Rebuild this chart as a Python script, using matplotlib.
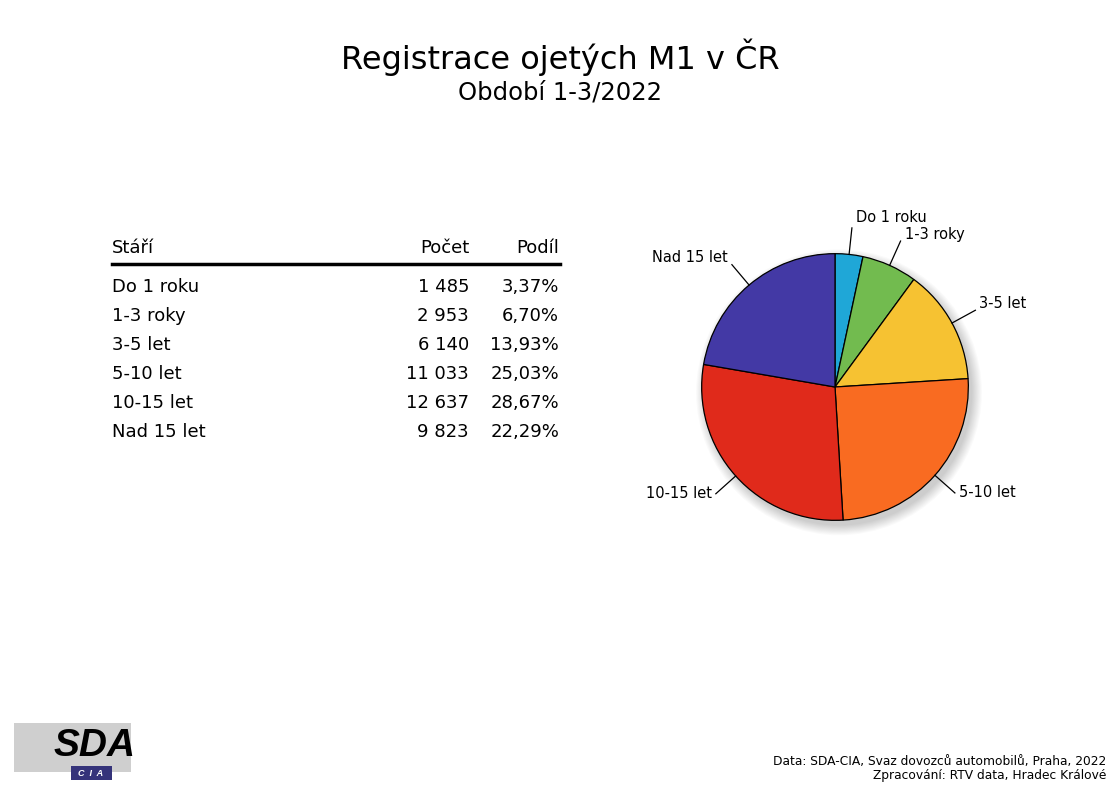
import numpy as np
import matplotlib
matplotlib.use("Agg")
import matplotlib.pyplot as plt
from matplotlib.patches import Rectangle, Circle

plt.rcParams['font.family'] = ['DejaVu Sans']

categories = ["Do 1 roku", "1-3 roky", "3-5 let", "5-10 let", "10-15 let", "Nad 15 let"]
counts = [1485, 2953, 6140, 11033, 12637, 9823]
shares = [3.37, 6.70, 13.93, 25.03, 28.67, 22.29]
colors = ["#1fa7d7", "#72bb4f", "#f6c232", "#f96b21", "#e02a1b", "#4339a5"]

W, H = 1120, 790
fig = plt.figure(figsize=(W / 100, H / 100), dpi=100)


def fx(px):
    return px / W


def fy(py):
    return 1 - py / H


# titles
fig.text(fx(560), fy(57), "Registrace ojetých M1 v ČR", ha="center", va="center", fontsize=23)
fig.text(fx(560), fy(93), "Období 1-3/2022", ha="center", va="center", fontsize=17.5)

# table
tsize = 13
fig.text(fx(112), fy(248), "Stáří", ha="left", va="center", fontsize=tsize)
fig.text(fx(469), fy(248), "Počet", ha="right", va="center", fontsize=tsize)
fig.text(fx(559), fy(248), "Podíl", ha="right", va="center", fontsize=tsize)
fig.add_artist(plt.Line2D([fx(112), fx(560)], [fy(264), fy(264)], color="black", lw=2.5))
for i, (cat, n, s) in enumerate(zip(categories, counts, shares)):
    y = fy(287 + i * 29)
    fig.text(fx(112), y, cat, ha="left", va="center", fontsize=tsize)
    fig.text(fx(469), y, f"{n:,}".replace(",", " "), ha="right", va="center", fontsize=tsize)
    fig.text(fx(559), y, f"{s:.2f}%".replace(".", ","), ha="right", va="center", fontsize=tsize)

# pie
ax = fig.add_axes([fx(635), fy(587), 400 / W, 400 / H])

# soft shadow
for k in range(10):
    ax.add_patch(Circle((0.03, -0.04), 1.0 + k * 0.008, color="black",
                        alpha=0.018, lw=0, zorder=0))

wedges, _ = ax.pie(counts, colors=colors, startangle=90, counterclock=False,
                   radius=1.0, wedgeprops=dict(edgecolor="black", linewidth=0.9))
for w in wedges:
    w.set_zorder(2)
ax.set_xlim(-1.5, 1.5)
ax.set_ylim(-1.5, 1.5)
ax.set_aspect("equal")
ax.axis("off")

total = sum(counts)
cum = np.cumsum([0] + counts[:-1])
for cat, c0, n in zip(categories, cum, counts):
    ang = np.deg2rad(90 - 360 * (c0 + n / 2) / total)
    x0, y0 = np.cos(ang), np.sin(ang)
    ax.plot([x0, 1.2 * x0], [y0, 1.2 * y0], color="black", lw=0.9, zorder=3)
    ha = "left" if x0 > 0 else "right"
    tx = 1.2 * x0 + (0.03 if x0 > 0 else -0.03)
    ty = 1.2 * y0
    if y0 > 0.95:
        va, ty = "bottom", ty + 0.02
    elif y0 > 0.3:
        va, ty = "center", ty + 0.05
    else:
        va = "center"
    ax.text(tx, ty, cat, ha=ha, va=va, fontsize=10.5)

# logo
fig.add_artist(Rectangle((fx(14), fy(772)), 117 / W, 49 / H, transform=fig.transFigure,
                         color="#cfcfcf", lw=0))
fig.add_artist(Rectangle((fx(71), fy(780)), 41 / W, 14 / H, transform=fig.transFigure,
                         color="#35337a", lw=0))
fig.text(fx(95), fy(746), "SDA", ha="center", va="center", fontsize=28,
         fontweight="heavy", style="italic", family="Liberation Sans")
fig.text(fx(91), fy(773), "C  I  A", ha="center", va="center", fontsize=6.5,
         fontweight="bold", style="italic", color="white", family="Liberation Sans")

# footer
fig.text(fx(1106), fy(762), "Data: SDA-CIA, Svaz dovozců automobilů, Praha, 2022",
         ha="right", va="center", fontsize=8.8)
fig.text(fx(1106), fy(775), "Zpracování: RTV data, Hradec Králové",
         ha="right", va="center", fontsize=8.8)

fig.savefig("out.png", dpi=100)
